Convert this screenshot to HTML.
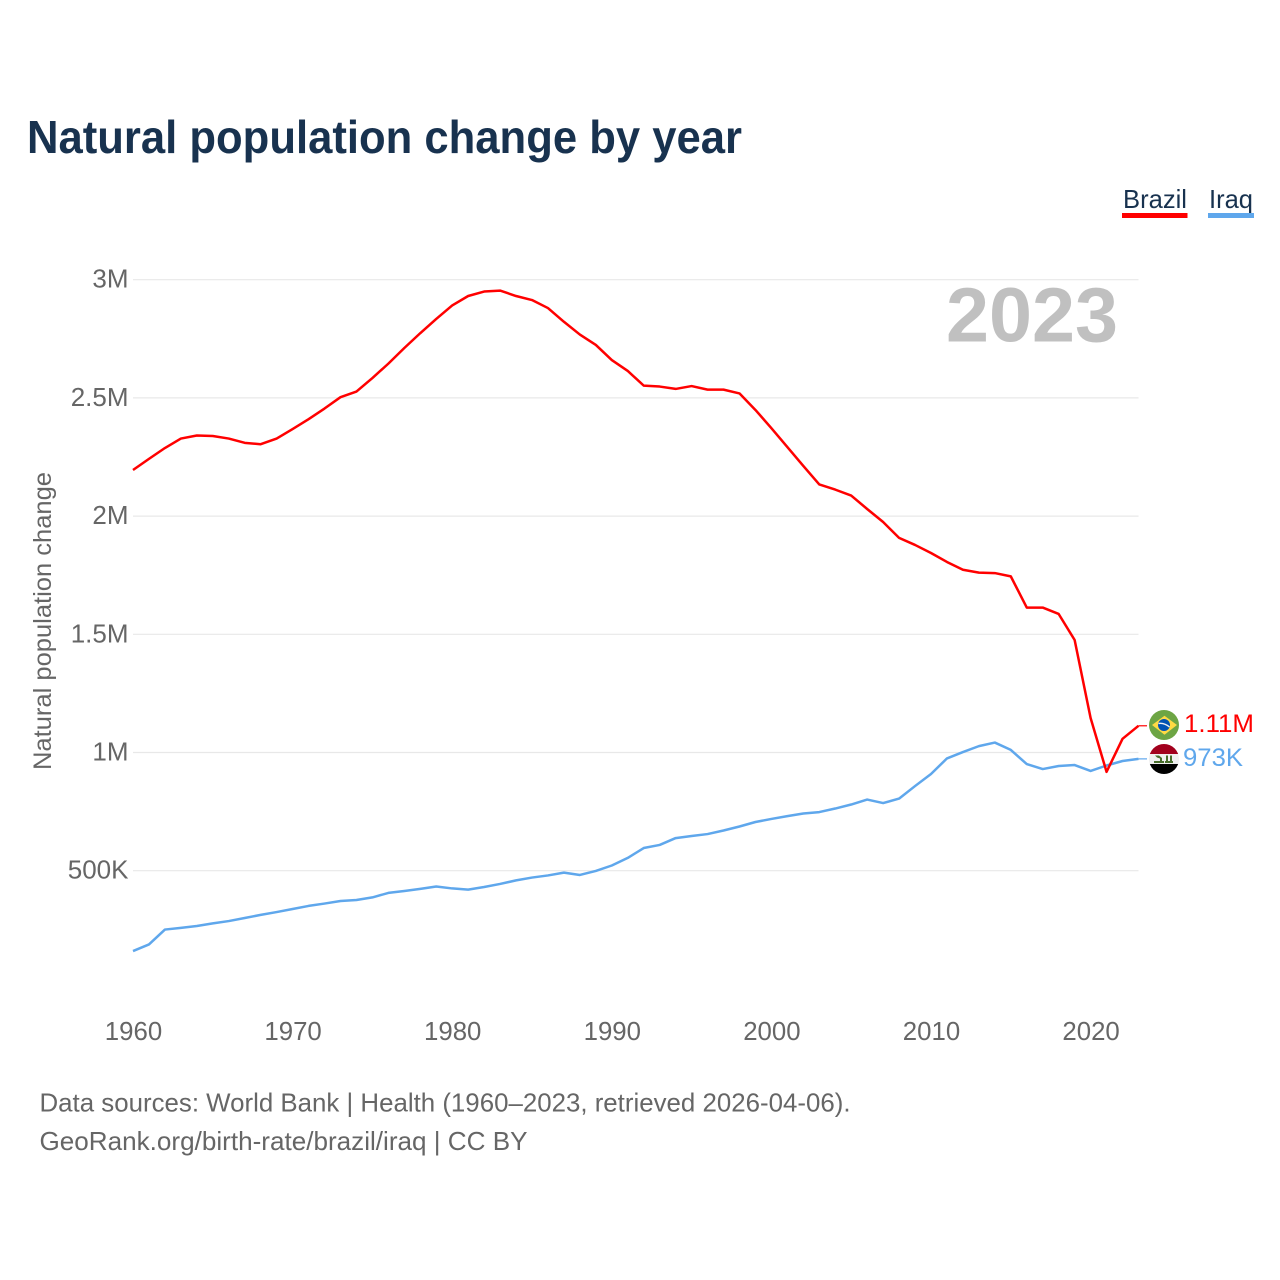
<!DOCTYPE html>
<html lang="en">
<head>
<meta charset="utf-8">
<title>Natural population change by year</title>
<style>
html,body{margin:0;padding:0;background:#fff;width:1280px;height:1280px;overflow:hidden}
svg{display:block}
text{font-family:"Liberation Sans",sans-serif}
</style>
</head>
<body>
<svg id="chart" xmlns="http://www.w3.org/2000/svg" width="1280" height="1280" viewBox="0 0 1280 1280">
  <defs>
    <clipPath id="clip-br"><circle cx="1164" cy="725" r="15"/></clipPath>
    <clipPath id="clip-iq"><circle cx="1164" cy="759" r="15"/></clipPath>
  </defs>
  <rect width="1280" height="1280" fill="#fff"/>
  <text x="27" y="153" font-size="46" font-weight="700" fill="#18324f" textLength="715" lengthAdjust="spacingAndGlyphs">Natural population change by year</text>

  <g>
    <text x="1123" y="208" font-size="26" fill="#18324f" textLength="64" lengthAdjust="spacingAndGlyphs">Brazil</text>
    <rect x="1122" y="213" width="65.500" height="5" fill="#ff0000"/>
  </g>
  <g>
    <text x="1209" y="208" font-size="26" fill="#18324f" textLength="44" lengthAdjust="spacingAndGlyphs">Iraq</text>
    <rect x="1208" y="213" width="46" height="5" fill="#5fa7ec"/>
  </g>

  <g id="grid"></g>
  <g id="yticks"></g>
  <g id="xticks"></g>

  <text transform="translate(51,770) rotate(-90)" font-size="25" fill="#666" textLength="298" lengthAdjust="spacingAndGlyphs">Natural population change</text>
  <text x="946" y="341.500" font-size="77" font-weight="700" fill="#c0c0c0" textLength="172" lengthAdjust="spacingAndGlyphs">2023</text>

  <g id="series"></g>

  <g clip-path="url(#clip-br)">
    <rect x="1149" y="710" width="30" height="30" fill="#6da544"/>
    <polygon points="1164.500,715.800 1177,725 1164.500,734.800 1152,725" fill="#ffda44"/>
    <circle cx="1164" cy="725" r="6" fill="#0052b4"/>
    <path d="M1158.500 723.500 Q1164 722.500 1169.500 727" stroke="#f0f0f0" stroke-width="1.400" fill="none"/>
  </g>
  <g clip-path="url(#clip-iq)">
    <rect x="1149" y="744" width="30" height="10" fill="#a2001d"/>
    <rect x="1149" y="754" width="30" height="10" fill="#f0f0f0"/>
    <rect x="1149" y="764" width="30" height="10" fill="#000"/>
    <polygon points="1155,755.500 1159,755.500 1162,758 1162,761 1160,761 1160,758.500 1157,757.500" fill="#496e2d"/>
    <rect x="1154" y="761" width="10" height="2" fill="#496e2d"/>
    <rect x="1166" y="755.500" width="2" height="7.500" fill="#496e2d"/>
    <rect x="1170" y="755.500" width="2" height="7.500" fill="#496e2d"/>
    <rect x="1165" y="761" width="8" height="2" fill="#496e2d"/>
  </g>
  <text x="1184" y="732" font-size="25" fill="#ff0000" textLength="70" lengthAdjust="spacingAndGlyphs">1.11M</text>
  <text x="1183" y="766" font-size="25" fill="#5fa7ec" textLength="60" lengthAdjust="spacingAndGlyphs">973K</text>

  <text x="39.500" y="1111.500" font-size="26" fill="#666" textLength="811" lengthAdjust="spacingAndGlyphs">Data sources: World Bank | Health (1960–2023, retrieved 2026-04-06).</text>
  <text x="39.500" y="1150" font-size="26" fill="#666" textLength="488" lengthAdjust="spacingAndGlyphs">GeoRank.org/birth-rate/brazil/iraq | CC BY</text>
</svg>
<script>
const years = [1960,1961,1962,1963,1964,1965,1966,1967,1968,1969,1970,1971,1972,1973,1974,1975,1976,1977,1978,1979,1980,1981,1982,1983,1984,1985,1986,1987,1988,1989,1990,1991,1992,1993,1994,1995,1996,1997,1998,1999,2000,2001,2002,2003,2004,2005,2006,2007,2008,2009,2010,2011,2012,2013,2014,2015,2016,2017,2018,2019,2020,2021,2022,2023];
const brazilValues = [2195,2242,2288,2328,2341,2339,2328,2310,2304,2328,2368,2410,2455,2503,2527,2584,2645,2711,2774,2834,2891,2931,2950,2954,2931,2914,2880,2822,2768,2724,2660,2614,2552,2548,2538,2550,2535,2535,2519,2449,2372,2292,2212,2134,2112,2087,2030,1975,1908,1878,1844,1806,1773,1761,1759,1745,1613,1613,1586,1476,1146,918,1058,1113];
const iraqValues = [160,188,251,258,266,277,287,300,313,325,338,351,361,372,376,387,406,414,423,433,425,420,431,444,459,471,480,492,482,499,522,554,596,609,638,647,655,670,687,706,719,731,742,748,763,780,801,786,805,858,909,975,1002,1027,1042,1011,951,930,943,947,922,945,964,973];
const yTickValues = [500,1000,1500,2000,2500,3000];
const yTickLabels = ["500K","1M","1.5M","2M","2.5M","3M"];
const xTickValues = [1960,1970,1980,1990,2000,2010,2020];

const SVGNS = "http://www.w3.org/2000/svg";
function xScale(year){ return 133 + (year - 1960) * 15.96; }
function yScale(v){ return 752.5 - (v - 1000) * 0.2364; }
const gridLayer = document.getElementById("grid");
const yLayer = document.getElementById("yticks");
const xLayer = document.getElementById("xticks");
const seriesLayer = document.getElementById("series");

yTickValues.forEach(function(v, i){
  const line = document.createElementNS(SVGNS, "line");
  
  
  line.setAttribute("x1", 133);
  line.setAttribute("x2", 1138.5);
  line.setAttribute("y1", yScale(v));
  line.setAttribute("y2", yScale(v));
  line.setAttribute("stroke", "#e8e8e8");
  line.setAttribute("stroke-width", "1.2");
  gridLayer.appendChild(line);
  const t = document.createElementNS(SVGNS, "text");
  
  
  t.setAttribute("x", 128.5);
  t.setAttribute("y", yScale(v) + 8);
  t.setAttribute("text-anchor", "end");
  t.setAttribute("font-size", "26");
  t.setAttribute("fill", "#666");
  t.textContent = yTickLabels[i];
  yLayer.appendChild(t);
});

xTickValues.forEach(function(year){
  const t = document.createElementNS(SVGNS, "text");
  
  
  t.setAttribute("x", xScale(year) + 0.5);
  t.setAttribute("y", 1040);
  t.setAttribute("text-anchor", "middle");
  t.setAttribute("font-size", "25.800");
  t.setAttribute("fill", "#666");
  t.textContent = String(year);
  xLayer.appendChild(t);
});

function pathFor(values){
  return values.map(function(v, i){
    return (i ? "L" : "M") + xScale(years[i]).toFixed(2) + " " + yScale(v).toFixed(2);
  }).join(" ");
}

const iraqLine = document.createElementNS(SVGNS, "path");


iraqLine.setAttribute("d", pathFor(iraqValues));
iraqLine.setAttribute("fill", "none");
iraqLine.setAttribute("stroke", "#5fa7ec");
iraqLine.setAttribute("stroke-width", "2.500");
iraqLine.setAttribute("stroke-linejoin", "round");
seriesLayer.appendChild(iraqLine);

const brazilLine = document.createElementNS(SVGNS, "path");


brazilLine.setAttribute("d", pathFor(brazilValues));
brazilLine.setAttribute("fill", "none");
brazilLine.setAttribute("stroke", "#ff0000");
brazilLine.setAttribute("stroke-width", "2.500");
brazilLine.setAttribute("stroke-linejoin", "round");
seriesLayer.appendChild(brazilLine);

const iraqConnector = document.createElementNS(SVGNS, "line");


iraqConnector.setAttribute("x1", xScale(2023));
iraqConnector.setAttribute("x2", 1147);
iraqConnector.setAttribute("y1", yScale(iraqValues[iraqValues.length - 1]));
iraqConnector.setAttribute("y2", yScale(iraqValues[iraqValues.length - 1]));
iraqConnector.setAttribute("stroke", "#5fa7ec");
iraqConnector.setAttribute("stroke-width", "1.200");
seriesLayer.appendChild(iraqConnector);

const brazilConnector = document.createElementNS(SVGNS, "line");


brazilConnector.setAttribute("x1", xScale(2023));
brazilConnector.setAttribute("x2", 1147);
brazilConnector.setAttribute("y1", yScale(brazilValues[brazilValues.length - 1]));
brazilConnector.setAttribute("y2", yScale(brazilValues[brazilValues.length - 1]));
brazilConnector.setAttribute("stroke", "#ff0000");
brazilConnector.setAttribute("stroke-width", "1.200");
seriesLayer.appendChild(brazilConnector);
</script>
</body>
</html>
